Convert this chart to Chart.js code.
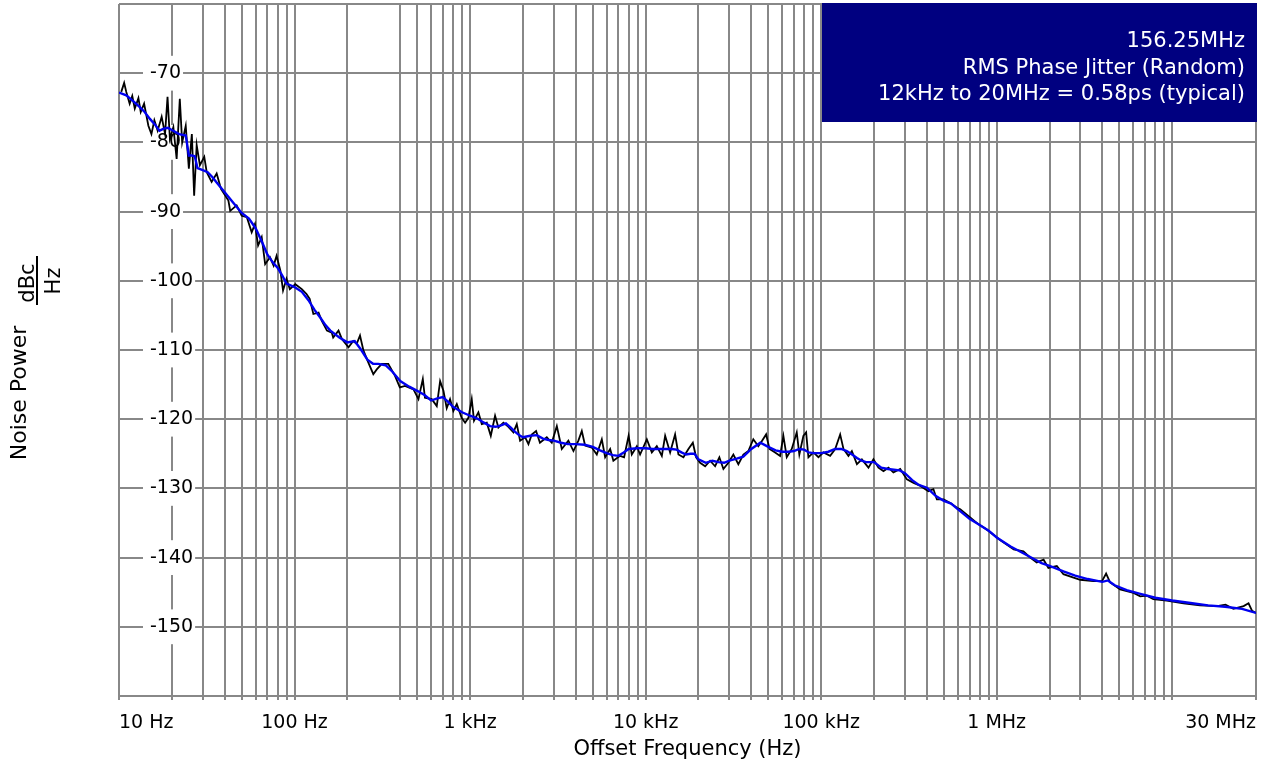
<!DOCTYPE html>
<html>
<head>
<meta charset="utf-8">
<title>Phase noise 156.25MHz</title>
<script src="https://cdn.jsdelivr.net/npm/chart.js@4.4.1/dist/chart.umd.min.js"></script>
<style>
    html, body { margin: 0; padding: 0; background: #ffffff; }
    #noiseChart { display: block; }
</style>
</head>
<body>
<canvas id="noiseChart" width="1264" height="769"></canvas>
<script>
// Smoothed trace (blue)
const smoothFreq = [
    10, 11, 12, 13, 14, 15, 16, 17, 18, 19, 20, 22, 24, 25, 26, 27, 28, 30, 32, 34, 36, 40, 45, 50, 55, 60, 65, 70, 75, 80, 85, 90,
    100, 110, 120, 130, 140, 150, 160, 180, 200, 220, 240, 260, 280, 300, 330, 360, 400, 450, 500, 550, 600, 650, 700, 750, 800, 900,
    1000, 1100, 1200, 1300, 1400, 1500, 1600, 1700, 1800, 1900, 2000, 2200, 2400, 2600, 2800, 3000, 3300, 3600, 4000, 4500, 5000, 5500, 6000, 6500, 7000, 7500, 8000, 9000,
    10000, 11000, 12000, 13000, 14000, 15000, 16000, 17000, 18000, 19000, 20000, 22000, 24000, 26000, 28000, 30000, 33000, 36000, 40000, 45000, 50000, 55000, 60000, 65000, 70000, 75000, 80000, 85000, 90000,
    100000, 110000, 120000, 130000, 140000, 150000, 160000, 170000, 180000, 200000, 220000, 240000, 260000, 280000, 300000, 330000, 360000, 400000, 450000, 500000, 550000, 600000, 700000, 800000, 900000,
    1e6, 1.2e6, 1.4e6, 1.6e6, 1.8e6, 2e6, 2.4e6, 2.8e6, 3.3e6, 3.8e6, 4e6, 4.3e6, 4.7e6, 5.5e6, 6.5e6, 8e6,
    1e7, 1.3e7, 1.6e7, 2e7, 2.5e7, 3e7
];
const smoothDb = [
    -72.8, -73.2, -74.0, -74.8, -75.6, -76.6, -77.4, -78.3, -78.0, -77.9, -78.2, -78.8, -79.0, -81.9, -81.9, -82.0, -83.7, -84.0, -84.3, -85.0, -85.8, -87.2, -88.8, -90.2, -91.0, -92.4, -94.3, -96.2, -97.3, -98.1, -99.2, -100.4,
    -100.9, -101.6, -102.8, -104.2, -105.3, -106.4, -107.2, -108.2, -108.9, -108.7, -110.0, -111.4, -112.0, -112.0, -112.2, -113.1, -114.5, -115.3, -115.9, -116.5, -117.3, -117.0, -116.8, -117.5, -118.2, -119.0,
    -119.5, -119.9, -120.5, -121.0, -121.1, -120.9, -120.6, -121.2, -121.8, -122.3, -122.6, -122.4, -122.3, -122.8, -123.0, -123.1, -123.4, -123.6, -123.6, -123.7, -124.0, -124.5, -124.9, -125.2, -125.3, -124.8, -124.3, -124.2,
    -124.2, -124.3, -124.3, -124.3, -124.3, -124.4, -124.8, -125.1, -125.0, -125.0, -125.8, -126.3, -126.0, -126.2, -126.3, -126.0, -125.7, -125.4, -124.3, -123.4, -124.0, -124.5, -124.7, -124.7, -124.6, -124.3, -124.4, -124.8, -124.9,
    -124.9, -124.7, -124.3, -124.3, -124.6, -125.1, -125.6, -126.0, -126.2, -126.2, -127.0, -127.2, -127.3, -127.4, -127.8, -128.8, -129.5, -129.9, -131.1, -131.8, -132.2, -133.0, -134.4, -135.3, -136.1,
    -137.1, -138.4, -139.3, -140.1, -140.8, -141.2, -142.0, -142.6, -143.1, -143.4, -143.5, -143.3, -144.0, -144.7, -145.2, -145.8,
    -146.2, -146.6, -146.9, -147.1, -147.4, -148.0
];

// Measured trace (black)
const rawFreq = [
    10.3, 10.7, 11.0, 11.5, 11.9, 12.3, 12.9, 13.3, 13.9, 14.7, 15.3, 15.9, 16.6, 17.5, 18.3, 18.9, 19.5, 20.4, 21.3, 22.2, 22.9, 24.0, 25.0, 26.0, 26.8, 27.7, 28.9,
    30.6, 31.6, 33.7, 36.0, 38.1, 42, 43, 46.8, 50, 53.5, 57, 59.5, 62, 65, 68, 72.5, 76, 79, 83, 86, 90, 94,
    101, 110, 117, 122, 128, 137, 143, 153, 163, 166, 178, 186, 203, 216, 226, 236, 247, 263, 281, 294, 314, 342, 373, 398, 426, 476,
    508, 538, 553, 605, 646, 675, 705, 736, 769, 803, 840, 895, 937, 978,
    1022, 1053, 1115, 1166, 1245, 1312, 1388, 1450, 1548, 1653, 1765, 1845, 1927, 2057, 2150, 2246, 2377, 2500, 2735, 2920,
    3120, 3330, 3630, 3880, 4140, 4330, 4520, 4940, 5270, 5630, 5880, 6280, 6550, 7150, 7540, 8000, 8340, 8910, 9300,
    10160, 10850, 11580, 12370, 12920, 13790, 14720, 15380, 16420, 17530, 18580, 19400, 20440, 21830, 23300, 24880, 26310, 27740, 29610,
    31610, 33750, 36040, 38470, 41070, 43850, 45880, 48590, 50780, 54660, 58340, 60920, 63680, 68000, 72600, 75100, 79200, 82100, 84600, 90400, 96500,
    103000, 112500, 120200, 128300, 134000, 143000, 149600, 159800, 170600, 186000, 198500, 212000, 226400, 241700, 258000, 282000,
    308000, 336000, 366000, 408000, 436000, 456000, 498000, 544000, 594000, 620000, 706000, 788000, 874000,
    1.05e6, 1.25e6, 1.42e6, 1.52e6, 1.69e6, 1.85e6, 1.97e6, 2.2e6, 2.4e6, 2.74e6, 2.99e6, 3.56e6, 3.98e6, 4.2e6, 4.43e6, 5.05e6, 6.02e6, 6.57e6, 7.17e6, 7.8e6, 9.3e6,
    1.16e7, 1.44e7, 1.8e7, 2.01e7, 2.23e7, 2.55e7, 2.72e7, 2.85e7, 3e7
];
const rawDb = [
    -72.7, -71.4, -72.7, -74.4, -73.3, -75.1, -73.6, -75.6, -74.4, -77.6, -78.8, -76.8, -78.3, -76.3, -78.8, -73.4, -79.5, -77.8, -82.4, -73.7, -80.0, -77.6, -83.8, -78.8, -87.7, -80.4, -83.3,
    -82.1, -84.3, -85.7, -84.5, -86.7, -88.4, -89.9, -89.1, -90.6, -90.8, -93.0, -91.8, -94.9, -93.7, -97.6, -96.6, -97.8, -96.4, -98.5, -101.4, -99.7, -101.2,
    -100.5, -101.2, -101.9, -102.6, -104.8, -104.6, -105.8, -107.2, -107.5, -108.2, -107.2, -108.4, -109.6, -108.7, -109.1, -107.9, -110.1, -111.8, -113.5, -112.8, -112.0, -112.0, -113.7, -115.4, -115.2, -115.7,
    -117.1, -114.2, -116.9, -117.1, -118.1, -114.5, -115.9, -118.4, -117.1, -118.8, -117.8, -119.8, -120.5, -119.8,
    -117.1, -120.2, -119.0, -120.7, -120.5, -122.4, -119.5, -121.2, -120.5, -121.1, -121.9, -120.7, -123.1, -122.6, -123.6, -122.2, -121.7, -123.4, -122.6, -123.4,
    -121.0, -124.3, -123.1, -124.6, -123.1, -121.7, -123.8, -124.1, -125.1, -122.9, -125.5, -124.3, -126.0, -125.3, -125.5, -122.4, -125.1, -123.9, -125.1,
    -122.9, -124.8, -123.9, -125.3, -122.4, -124.8, -122.2, -125.1, -125.5, -124.3, -123.4, -125.5, -126.3, -126.8, -126.0, -126.8, -125.5, -127.2, -126.3,
    -125.1, -126.5, -125.1, -124.6, -122.9, -123.9, -123.2, -122.2, -124.3, -124.8, -125.3, -122.4, -125.5, -124.3, -121.9, -125.1, -122.4, -121.9, -125.5, -124.8, -125.5,
    -124.8, -125.3, -124.3, -122.2, -124.3, -125.3, -124.6, -126.5, -125.8, -127.0, -125.8, -127.0, -127.5, -127.0, -127.7, -127.2,
    -128.7, -129.2, -129.6, -130.4, -130.1, -131.6, -131.6, -132.1, -132.8, -133.0, -134.2, -135.2, -135.9,
    -137.5, -138.8, -139.1, -139.8, -140.7, -140.3, -141.5, -141.2, -142.4, -142.9, -143.2, -143.4, -143.4, -142.3, -143.6, -144.6, -145.1, -145.6, -145.5, -146.0, -146.2,
    -146.6, -146.9, -147.0, -146.8, -147.4, -147.0, -146.6, -147.7, -148.0
];

// Vertical grid lines (the plot has none at 300 Hz and 20 MHz)
const gridFreqs = [
    10, 20, 30, 40, 50, 60, 70, 80, 90,
    100, 200, 400, 500, 600, 700, 800, 900,
    1000, 2000, 3000, 4000, 5000, 6000, 7000, 8000, 9000,
    10000, 20000, 30000, 40000, 50000, 60000, 70000, 80000, 90000,
    100000, 200000, 300000, 400000, 500000, 600000, 700000, 800000, 900000,
    1e6, 2e6, 3e6, 4e6, 5e6, 6e6, 7e6, 8e6, 9e6,
    1e7, 3e7
];
const labelFreqs = [10, 100, 1000, 10000, 100000, 1e6, 3e7];
const labelTexts = ['10 Hz', '100 Hz', '1 kHz', '10 kHz', '100 kHz', '1 MHz', '30 MHz'];

const noteLines = ['156.25MHz', 'RMS Phase Jitter (Random)', '12kHz to 20MHz = 0.58ps (typical)'];

const fontFamily = '"DejaVu Sans", "Liberation Sans", sans-serif';
const gridColor = '#888888';

Chart.defaults.font.family = fontFamily;

function rotatedText(c, text, x, y, size) {
    c.save();
    c.translate(x, y);
    c.rotate(-Math.PI / 2);
    c.font = size + 'px ' + fontFamily;
    c.textAlign = 'center';
    c.textBaseline = 'alphabetic';
    c.fillText(text, 0, 0);
    c.restore();
}

// Jitter note box and the y axis caption with its dBc/Hz fraction
const extrasPlugin = {
    id: 'extras',
    afterDraw(chart) {
        const c = chart.ctx;
        const area = chart.chartArea;
        c.save();
        c.fillStyle = '#000080';
        c.fillRect(area.right - 434, area.top - 1, 435, 119);
        c.fillStyle = '#ffffff';
        c.font = '21px ' + fontFamily;
        c.textAlign = 'right';
        c.textBaseline = 'alphabetic';
        noteLines.forEach((line, i) => {
            c.fillText(line, area.right - 11, 47 + i * 26.5);
        });

        c.fillStyle = '#000000';
        rotatedText(c, 'Noise Power', 26, 393, 22);
        rotatedText(c, 'dBc', 34, 283, 21);
        rotatedText(c, 'Hz', 60, 281, 21);
        c.fillRect(36, 256, 2, 49);
        c.restore();
    }
};

const ctx = document.getElementById('noiseChart').getContext('2d');

new Chart(ctx, {
    type: 'line',
    data: {
        datasets: [
            {
                label: 'Smoothed',
                data: smoothFreq.map((f, i) => ({ x: f, y: smoothDb[i] })),
                borderColor: '#0000f0',
                borderWidth: 2.4,
                pointRadius: 0,
                tension: 0,
                order: 0
            },
            {
                label: 'Measured',
                data: rawFreq.map((f, i) => ({ x: f, y: rawDb[i] })),
                borderColor: '#000000',
                borderWidth: 1.8,
                pointRadius: 0,
                tension: 0,
                order: 1
            }
        ]
    },
    options: {
        responsive: false,
        animation: false,
        devicePixelRatio: 1,
        layout: { padding: { top: 4, right: 8, bottom: 0, left: 0 } },
        plugins: {
            legend: { display: false },
            tooltip: { enabled: false }
        },
        scales: {
            x: {
                type: 'logarithmic',
                position: 'bottom',
                min: 10,
                max: 3e7,
                bounds: 'data',
                afterBuildTicks: (scale) => {
                    scale.ticks = gridFreqs.map(v => ({ value: v }));
                },
                afterFit: (scale) => {
                    scale.height = 73;
                    scale.paddingLeft = 0;
                    scale.paddingRight = 0;
                },
                grid: { color: gridColor, lineWidth: 2, drawTicks: true, tickLength: 4 },
                border: { display: false },
                ticks: {
                    autoSkip: false,
                    maxRotation: 0,
                    minRotation: 0,
                    align: 'inner',
                    padding: 12,
                    color: '#000000',
                    font: { size: 19 },
                    callback: (value) => {
                        const i = labelFreqs.indexOf(value);
                        return i < 0 ? '' : labelTexts[i];
                    }
                },
                title: {
                    display: true,
                    text: 'Offset Frequency (Hz)',
                    color: '#000000',
                    font: { size: 21 },
                    padding: { top: 0, bottom: 7 }
                }
            },
            y: {
                type: 'linear',
                position: 'left',
                min: -160,
                max: -60,
                afterFit: (scale) => {
                    scale.width = 119;
                    scale.paddingTop = 0;
                    scale.paddingBottom = 0;
                },
                grid: { color: gridColor, lineWidth: 2, drawTicks: false, tickLength: 0 },
                border: { display: false },
                ticks: {
                    stepSize: 10,
                    mirror: true,
                    padding: 31,
                    color: '#000000',
                    font: { size: 19 },
                    showLabelBackdrop: (c) => c.tick && c.tick.value > -160 && c.tick.value < -60,
                    backdropColor: '#ffffff',
                    backdropPadding: { top: 6, bottom: 6, left: 7, right: 2 },
                    callback: (value) => (value <= -160 || value >= -60) ? '' : String(value)
                }
            }
        }
    },
    plugins: [extrasPlugin]
});
</script>
</body>
</html>
